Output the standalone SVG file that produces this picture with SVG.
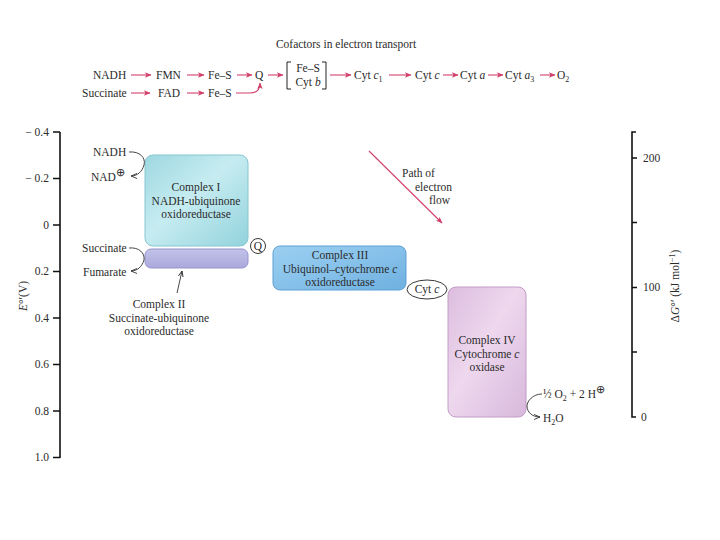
<svg xmlns="http://www.w3.org/2000/svg" width="720" height="540" viewBox="0 0 720 540">
<style>
text{font-family:"Liberation Serif","Times New Roman",serif;font-size:11.5px;fill:#2b2b2b}
.c{text-anchor:middle}
.e{text-anchor:end}
.ax{stroke:#111;stroke-width:1.6;fill:none}
.pk{stroke:#d2406a;stroke-width:1.1;fill:none;marker-end:url(#pa)}
.gy{stroke:#333;stroke-width:0.9;fill:none;marker-end:url(#ga)}
</style>
<defs>
<marker id="pa" markerWidth="7" markerHeight="6" refX="6" refY="3" orient="auto" markerUnits="userSpaceOnUse"><path d="M0,0.3 L6.5,3 L0,5.7 L1.5,3 Z" fill="#d2406a"/></marker>
<marker id="ga" markerWidth="7" markerHeight="6" refX="6" refY="3" orient="auto" markerUnits="userSpaceOnUse"><path d="M0,0.5 L6,3 L0,5.5" fill="none" stroke="#333" stroke-width="0.9"/></marker>
<linearGradient id="g1" x1="0" y1="0" x2="1" y2="1"><stop offset="0" stop-color="#9ed8e1"/><stop offset="0.45" stop-color="#c6ecf1"/><stop offset="1" stop-color="#93d2dc"/></linearGradient>
<linearGradient id="g2" x1="0" y1="0" x2="0" y2="1"><stop offset="0" stop-color="#c3c2ea"/><stop offset="1" stop-color="#aaa8da"/></linearGradient>
<linearGradient id="g3" x1="0" y1="0" x2="1" y2="1"><stop offset="0" stop-color="#9ccff1"/><stop offset="0.5" stop-color="#86c1ea"/><stop offset="1" stop-color="#6eb0e0"/></linearGradient>
<linearGradient id="g4" x1="0" y1="0" x2="1" y2="1"><stop offset="0" stop-color="#dcbcde"/><stop offset="0.45" stop-color="#eed8ee"/><stop offset="1" stop-color="#d8b8dc"/></linearGradient>
</defs>

<g id="title"><text x="346" y="48" class="c">Cofactors in electron transport</text></g>

<g id="cofactors">
<text x="93" y="79">NADH</text>
<text x="156" y="79">FMN</text>
<text x="208" y="79">Fe–S</text>
<text x="255" y="79">Q</text>
<text x="308" y="72" class="c">Fe–S</text>
<text x="308" y="86" class="c">Cyt <tspan font-style="italic">b</tspan></text>
<path d="M291,62 H287 V89 H291 M322,62 H326 V89 H322" stroke="#222" stroke-width="1" fill="none"/>
<text x="354" y="79">Cyt <tspan font-style="italic">c</tspan><tspan font-size="8" dy="3">1</tspan></text>
<text x="415" y="79">Cyt <tspan font-style="italic">c</tspan></text>
<text x="460" y="79">Cyt <tspan font-style="italic">a</tspan></text>
<text x="505" y="79">Cyt <tspan font-style="italic">a</tspan><tspan font-size="8" dy="3">3</tspan></text>
<text x="557" y="79">O<tspan font-size="8" dy="3">2</tspan></text>
<text x="82" y="97">Succinate</text>
<text x="158" y="97">FAD</text>
<text x="208" y="97">Fe–S</text>
</g>

<g id="axis-left">
<path class="ax" d="M60,132 V458"/>
<path class="ax" d="M53,132 H60 M53,178.5 H60 M53,225 H60 M53,271.5 H60 M53,318 H60 M53,364.5 H60 M53,411 H60 M53,457.5 H60"/>
<text x="49" y="136" class="e">− 0.4</text>
<text x="49" y="182" class="e">− 0.2</text>
<text x="49" y="229" class="e">0</text>
<text x="49" y="275" class="e">0.2</text>
<text x="49" y="322" class="e">0.4</text>
<text x="49" y="368" class="e">0.6</text>
<text x="49" y="415" class="e">0.8</text>
<text x="49" y="461" class="e">1.0</text>
<text transform="translate(27,296) rotate(-90)" class="c"><tspan font-style="italic">E</tspan>°′(V)</text>
</g>

<g id="axis-right">
<path class="ax" d="M636,132 H632 V417 H636"/>
<path class="ax" d="M632,158 H637 M632,222.5 H637 M632,287.5 H637 M632,352 H637"/>
<text x="643" y="162">200</text>
<text x="643" y="291">100</text>
<text x="641" y="421">0</text>
<text transform="translate(679,286) rotate(-90)" class="c">Δ<tspan font-style="italic">G</tspan>°′ (kJ mol<tspan font-size="8" dy="-4">−1</tspan><tspan dy="4">)</tspan></text>
</g>

<g id="complex1">
<rect x="145" y="155" width="103" height="91" rx="8" fill="url(#g1)" stroke="#86c6d1" stroke-width="1"/>
<text x="196" y="191" class="c">Complex I</text>
<text x="196" y="205" class="c">NADH-ubiquinone</text>
<text x="196" y="218" class="c">oxidoreductase</text>
</g>

<g id="complex2">
<rect x="145" y="249" width="103" height="19" rx="6" fill="url(#g2)" stroke="#9593cd" stroke-width="1"/>
<text x="159" y="308" class="c">Complex II</text>
<text x="159" y="322" class="c">Succinate-ubiquinone</text>
<text x="159" y="335" class="c">oxidoreductase</text>
</g>

<g id="q">
<circle cx="258" cy="246" r="7.5" fill="#fff" stroke="#222" stroke-width="0.9"/>
<text x="258" y="250" class="c" font-size="10">Q</text>
</g>

<g id="complex3">
<rect x="273" y="246" width="133" height="44" rx="7" fill="url(#g3)" stroke="#5d9fd3" stroke-width="1"/>
<text x="340" y="259" class="c">Complex III</text>
<text x="340" y="273" class="c">Ubiquinol–cytochrome <tspan font-style="italic">c</tspan></text>
<text x="340" y="286" class="c">oxidoreductase</text>
</g>

<g id="cytc">
<ellipse cx="427" cy="289.5" rx="20" ry="9.5" fill="#fff" stroke="#222" stroke-width="0.9"/>
<text x="427" y="293" class="c" font-size="10.5">Cyt <tspan font-style="italic">c</tspan></text>
</g>

<g id="complex4">
<rect x="448" y="287" width="78" height="130" rx="8" fill="url(#g4)" stroke="#c39cc7" stroke-width="1"/>
<text x="487" y="344" class="c">Complex IV</text>
<text x="487" y="358" class="c">Cytochrome <tspan font-style="italic">c</tspan></text>
<text x="487" y="371" class="c">oxidase</text>
</g>

<g id="labels">
<text x="93" y="156">NADH</text>
<text x="91" y="181">NAD<tspan font-size="11" dy="-5">⊕</tspan></text>
<text x="82" y="252">Succinate</text>
<text x="83" y="276">Fumarate</text>
<text x="543" y="398">½ O<tspan font-size="8" dy="3">2</tspan><tspan dy="-3"> + 2 H</tspan><tspan font-size="11" dy="-5">⊕</tspan></text>
<text x="543" y="422">H<tspan font-size="8" dy="3">2</tspan><tspan dy="-3">O</tspan></text>
<text x="402" y="177">Path of</text>
<text x="415" y="191">electron</text>
<text x="429" y="204">flow</text>
</g>

<g id="connectors">
<path class="pk" d="M131,75 H151"/>
<path class="pk" d="M187,75 H204"/>
<path class="pk" d="M237,75 H252"/>
<path class="pk" d="M268,75 H283"/>
<path class="pk" d="M330,75 H351"/>
<path class="pk" d="M389,75 H411"/>
<path class="pk" d="M443,75 H458"/>
<path class="pk" d="M488,75 H503"/>
<path class="pk" d="M540,75 H555"/>
<path class="pk" d="M131,93 H150"/>
<path class="pk" d="M187,93 H204"/>
<path class="pk" d="M236,93 H250 C257,93 260,90 260,83"/>
<path class="pk" d="M369,151 L442,223"/>
<path class="gy" d="M129,152 C140,151 146,158 144,165 C142,172 137,176 131,176"/>
<path class="gy" d="M129,248 C139,247 145,253 144,260 C142,267 137,271 131,271"/>
<path class="gy" d="M542,394 C533,394 527,401 527,406 C527,412 532,417 540,417"/>
<path class="gy" d="M177,293 L182,271"/>
</g>
</svg>
